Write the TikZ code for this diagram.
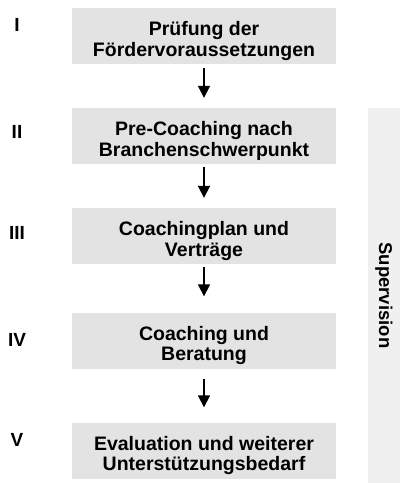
\documentclass[tikz,border=0pt]{standalone}
\usepackage{fontspec}
\setmainfont{Liberation Sans}
\usepackage{xcolor}
\usepackage{tikz}
\usetikzlibrary{arrows.meta,positioning}
\definecolor{StageGray}{HTML}{E3E3E3}
\definecolor{SupGray}{HTML}{F0F0F0}

\begin{document}
\begin{tikzpicture}[
    x=1pt,y=1pt,
    stagebox/.style={fill=StageGray, minimum width=264pt, minimum height=56pt, inner sep=0pt, text height=44pt, text depth=4pt, align=center, font=\bfseries\fontsize{19.5}{20.5}\selectfont},
    numeral/.style={inner sep=0pt, font=\bfseries\fontsize{19}{20}\selectfont},
    supbar/.style={fill=SupGray, rotate=-90, minimum width=375pt, minimum height=32pt, inner sep=0pt, font=\bfseries\fontsize{18.5}{20}\selectfont},
    flow/.style={-{Triangle[length=12pt,width=12pt]}, line width=1.8pt}
  ]
    \useasboundingbox (0,0) rectangle (400,-483);

    \node[supbar] (sup) at (384,-295.5) {Supervision};

    \node[stagebox] (s1) at (204,-36) {Prüfung der\\Fördervoraussetzungen};
    \node[stagebox] (s2) at (204,-136) {Pre-Coaching nach\\Branchenschwerpunkt};
    \node[stagebox] (s3) at (204,-236) {Coachingplan und\\Verträge};
    \node[stagebox] (s4) at (204,-340.5) {Coaching und\\Beratung};
    \node[stagebox] (s5) at (204,-450.5) {Evaluation und weiterer\\Unterstützungsbedarf};

    \node[numeral] (n1) at (17,-25) {I};
    \node[numeral] (n2) at (17,-132) {II};
    \node[numeral] (n3) at (17,-233) {III};
    \node[numeral] (n4) at (17,-340) {IV};
    \node[numeral] (n5) at (17,-440) {V};

    \draw[flow, shorten <=4pt, shorten >=10pt] (s1) -- (s2);
    \draw[flow, shorten <=3pt, shorten >=10pt] (s2) -- (s3);
    \draw[flow, shorten <=3pt, shorten >=16pt] (s3) -- (s4);
    \draw[flow, shorten <=10pt, shorten >=15pt] (s4) -- (s5);
  \end{tikzpicture}
\end{document}
